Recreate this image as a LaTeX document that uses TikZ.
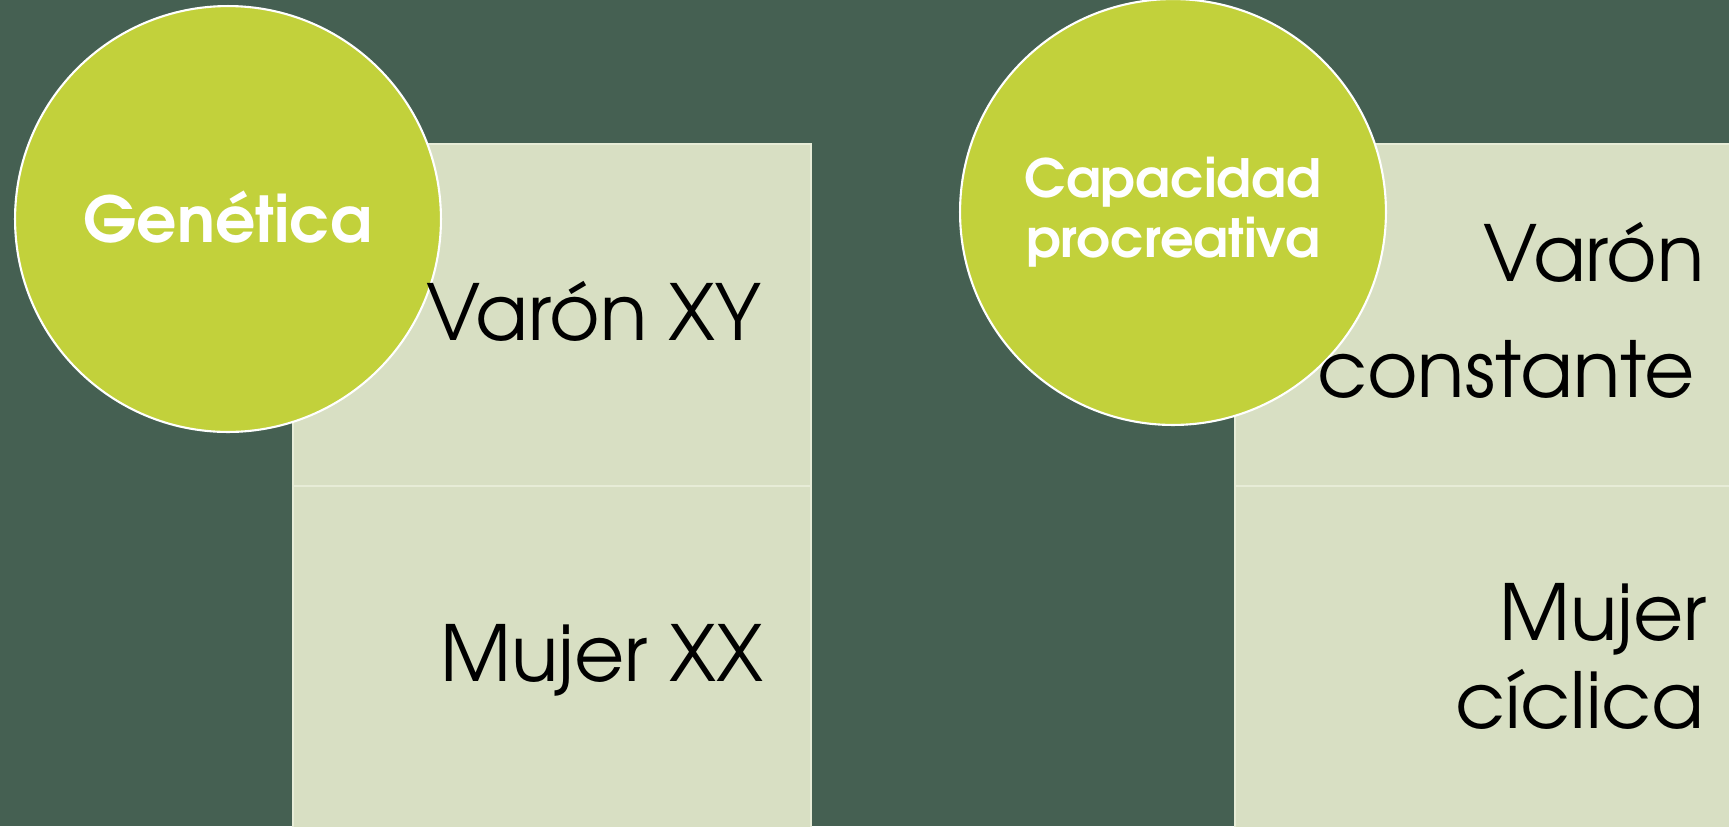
\documentclass[tikz,border=0pt]{standalone}
\usepackage{fontspec}
\setmainfont{TeX Gyre Adventor}
\usepackage{tikz}
\definecolor{bggreen}{RGB}{69,96,82}
\definecolor{lime}{RGB}{194,209,59}
\definecolor{cellfill}{RGB}{216,223,195}
\definecolor{celledge}{RGB}{231,236,215}

\begin{document}
\begin{tikzpicture}[x=0.02cm, y=-0.02cm,
    every circle node/.style={draw=white, fill=lime, line width=1.2pt, minimum size=8.52cm,
        inner sep=0pt, text=white, align=center},
    cell/.style={draw=celledge, fill=cellfill, line width=1pt, anchor=north west, inner sep=0pt},
    item/.style={anchor=base east, inner sep=0pt, font=\fontsize{44}{48}\selectfont}]
        \fill[bggreen] (0, 0) rectangle (1729, 826);
        \useasboundingbox (0, 0) rectangle (1729, 826);
        % left column
        \draw (292, 143) node(g1)[cell, minimum width=10.36cm, minimum height=6.84cm]{};
        \draw (292, 485) node(g2)[cell, minimum width=10.36cm, minimum height=7cm]{};
        \draw (228, 219) node(gen)[circle, font=\bfseries\fontsize{36}{40}\selectfont]{\raisebox{3pt}{Genética}};
        \draw (762, 340) node(varon)[item]{Varón XY};
        \draw (764, 681) node(mujer)[item]{Mujer XX};
        % right column
        \draw (1234, 143) node(c1)[cell, minimum width=10cm, minimum height=6.84cm]{};
        \draw (1234, 485) node(c2)[cell, minimum width=10cm, minimum height=7cm]{};
        \draw (1173, 212) node(cap)[circle, font=\bfseries\fontsize{30}{34}\selectfont]{Capacidad\\procreativa};
        \draw (1705, 281) node(varon2)[item]{Varón};
        \draw (1695, 397) node(const)[item]{constante};
        \draw (1707, 640) node(mujer2)[item]{Mujer};
        \draw (1705, 728) node(cicl)[item]{cíclica};
    \end{tikzpicture}
\end{document}
